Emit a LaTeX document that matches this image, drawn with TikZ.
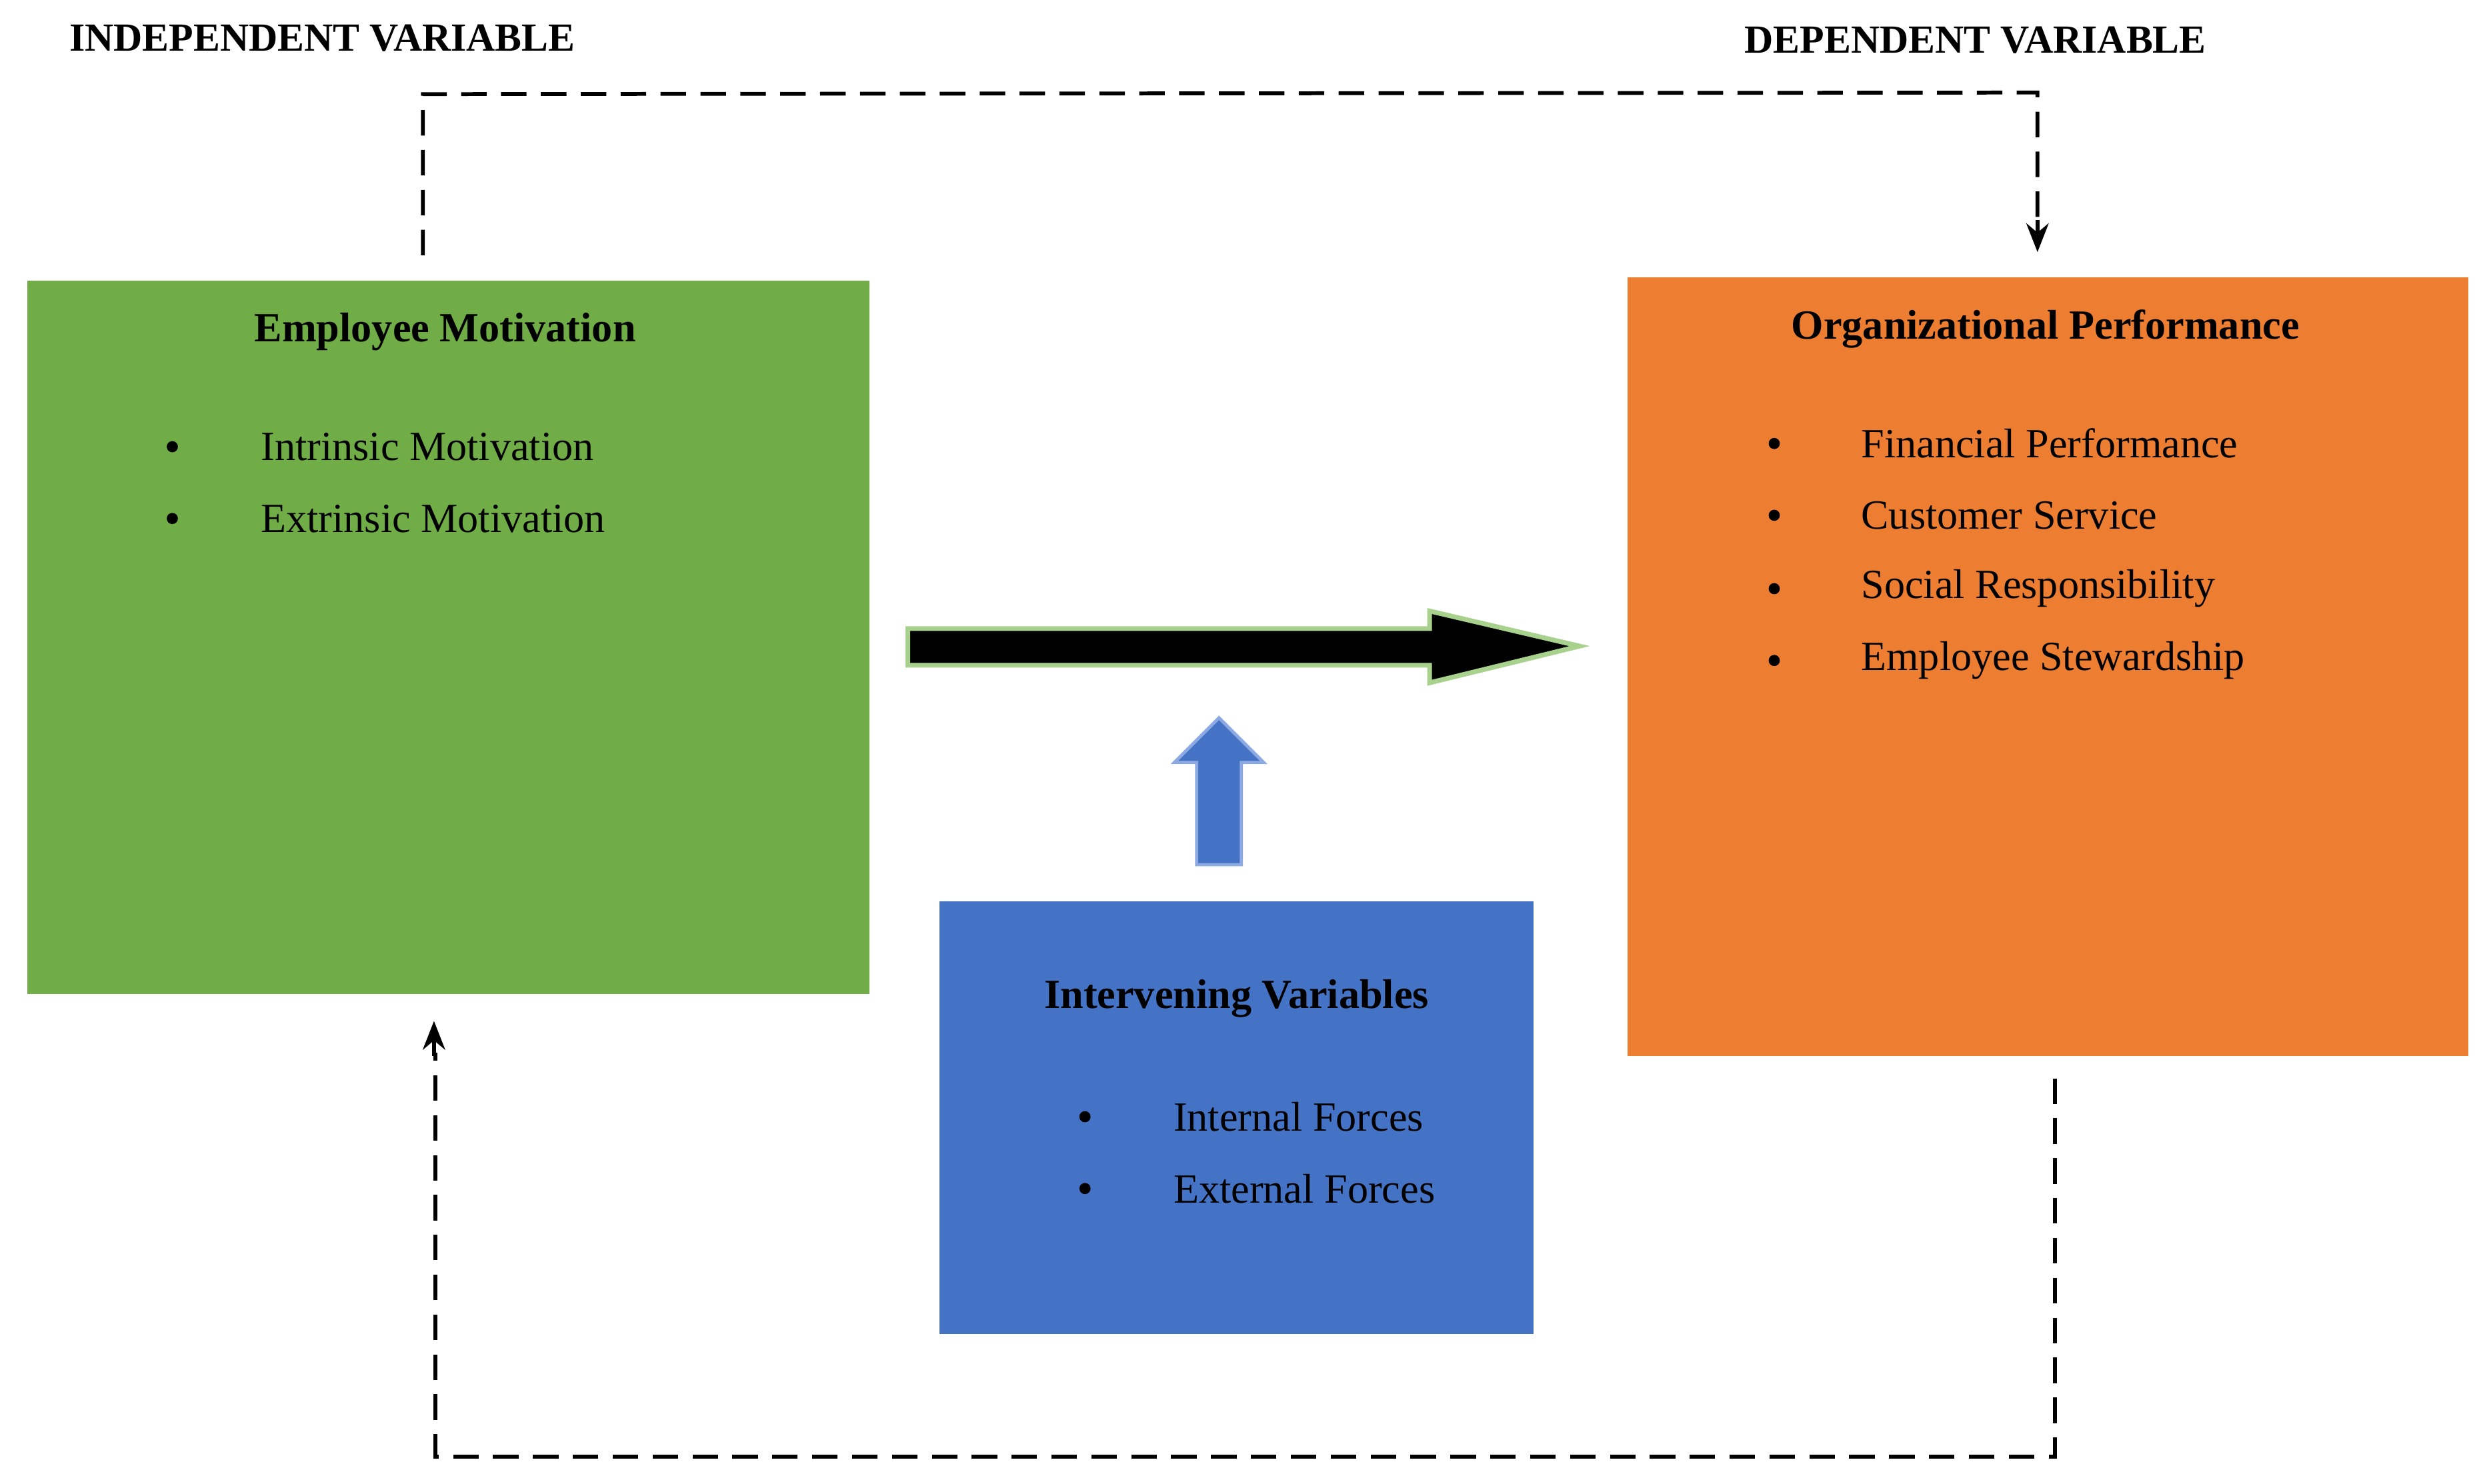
\documentclass[tikz,border=0pt]{standalone}
\usepackage{fontspec}
\setmainfont{Liberation Serif}
\usetikzlibrary{arrows.meta}
\begin{document}
\begin{tikzpicture}[x=1pt,y=-1pt,
  hdr/.style={font=\fontsize{25}{28}\selectfont\bfseries,anchor=west},
  ttl/.style={font=\fontsize{26}{30}\selectfont\bfseries},
  itm/.style={font=\fontsize{26}{30}\selectfont,anchor=west},
  bul/.style={circle,fill=black,inner sep=0,minimum size=7pt},
  dsh/.style={dash pattern=on 16pt off 9pt,line width=2.4pt},
  tip/.style={-{Stealth[length=18pt,width=14pt]}}]
\useasboundingbox (0,0) rectangle (1560,930);
\fill[fill={rgb,255:red,112;green,173;blue,71}] (17,176) rectangle (545,623);
\fill[fill={rgb,255:red,237;green,125;blue,49}] (1020,174) rectangle (1547,662);
\fill[fill={rgb,255:red,68;green,114;blue,196}] (589,565) rectangle (961,836);
\node[hdr] (iv) at (40,24) {INDEPENDENT VARIABLE};
\node[hdr] (dv) at (1090,25) {DEPENDENT VARIABLE};
\node[ttl] (t1) at (279,208) {Employee Motivation};
\node[bul] (b11) at (108,280) {}; \node[itm] (i11) at (160,280) {Intrinsic Motivation};
\node[bul] (b12) at (108,325) {}; \node[itm] (i12) at (160,325) {Extrinsic Motivation};
\node[ttl] (t2) at (1282,206) {Organizational Performance};
\node[bul] (b21) at (1112,278) {}; \node[itm] (i21) at (1163,278) {Financial Performance};
\node[bul] (b22) at (1112,323) {}; \node[itm] (i22) at (1163,323) {Customer Service};
\node[bul] (b23) at (1112,369) {}; \node[itm] (i23) at (1163,369) {Social Responsibility};
\node[bul] (b24) at (1112,414) {}; \node[itm] (i24) at (1163,414) {Employee Stewardship};
\node[ttl] (t3) at (775,626) {Intervening Variables};
\node[bul] (b31) at (680,700) {}; \node[itm] (i31) at (732,700) {Internal Forces};
\node[bul] (b32) at (680,745) {}; \node[itm] (i32) at (732,745) {External Forces};
% big arrow
\filldraw[fill=black,draw={rgb,255:red,169;green,209;blue,142},line width=3pt]
 (569,394) -- (896,394) -- (896,383) -- (990,405) -- (896,428) -- (896,417) -- (569,417) -- cycle;
% blue up arrow
\filldraw[fill={rgb,255:red,68;green,114;blue,196},draw={rgb,255:red,140;green,170;blue,225},line width=2pt]
 (750,542) -- (750,478) -- (736,478) -- (764,450) -- (792,478) -- (778,478) -- (778,542) -- cycle;
\coordinate (a0) at (265,160); \coordinate (a1) at (265,59);
\coordinate (a2) at (1277,58); \coordinate (a3) at (1277,158);
\draw[dsh] (a0) -- (a1) -- (a2) -- (1277,140);
\draw[tip,line width=2.4pt] (1277,138) -- (a3);
\coordinate (c0) at (1288,676); \coordinate (c1) at (1288,913);
\coordinate (c2) at (273,913); \coordinate (c3) at (272,640);
\draw[dsh] (c0) -- (c1) -- (c2) -- (273,660);
\draw[tip,line width=2.4pt] (272,662) -- (c3);
\end{tikzpicture}
\end{document}
